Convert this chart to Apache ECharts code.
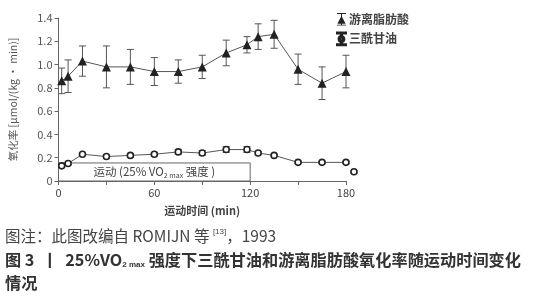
<!DOCTYPE html>
<html>
<head>
<meta charset="utf-8">
<script src="https://cdn.jsdelivr.net/npm/echarts@6/dist/echarts.min.js"></script>
<style>
  html, body { margin: 0; padding: 0; background: #fff; }
  #chart { width: 533px; height: 300px; }
</style>
</head>
<body>
<div id="chart"></div>
<script>
// 运动时间 (min)
const times = [2, 6, 15, 30, 45, 60, 75, 90, 105, 118, 125, 135, 150, 165, 180];
// 游离脂肪酸 氧化率 + 误差
const ffaValues = [0.86, 0.9, 1.03, 0.98, 0.98, 0.94, 0.94, 0.98, 1.1, 1.17, 1.24, 1.26, 0.96, 0.84, 0.94];
const ffaErr = [0.11, 0.14, 0.13, 0.18, 0.15, 0.12, 0.1, 0.1, 0.11, 0.07, 0.11, 0.12, 0.13, 0.14, 0.14];
// 三酰甘油
const tgTimes = [2, 6, 15, 30, 45, 60, 75, 90, 105, 118, 125, 135, 150, 165, 180, 185];
const tgValues = [0.13, 0.15, 0.23, 0.21, 0.22, 0.23, 0.25, 0.24, 0.27, 0.27, 0.24, 0.22, 0.16, 0.16, 0.16, 0.08];
const tgErr = [0.01, 0.01, 0.01, 0.015, 0.015, 0.015, 0.02, 0.02, 0.025, 0.025, 0.015, 0.01, 0.01, 0.01, 0.01, 0.01];
// 运动期 (25% VO2max)
const exercisePeriod = [0, 120];
const exerciseBoxTop = 0.155;
const yTicks = [0, 0.2, 0.4, 0.6, 0.8, 1.0, 1.2, 1.4];

const pair = (xs, ys) => xs.map((x, i) => [x, ys[i]]);
const errData = (xs, ys, es) => xs.map((x, i) => [x, ys[i] - es[i], ys[i] + es[i]]);

function errorBars(params, api) {
  const lo = api.coord([api.value(0), api.value(1)]);
  const hi = api.coord([api.value(0), api.value(2)]);
  const w = 3.5;
  const st = { stroke: '#555', lineWidth: 1 };
  return {
    type: 'group',
    children: [
      { type: 'line', shape: { x1: lo[0], y1: lo[1], x2: hi[0], y2: hi[1] }, style: st },
      { type: 'line', shape: { x1: lo[0] - w, y1: lo[1], x2: lo[0] + w, y2: lo[1] }, style: st },
      { type: 'line', shape: { x1: hi[0] - w, y1: hi[1], x2: hi[0] + w, y2: hi[1] }, style: st }
    ]
  };
}

const font = '"Noto Sans CJK SC", "Open Sans", sans-serif';
const chart = echarts.init(document.getElementById('chart'));

const iconFfa = 'path://M0,0H10V1H5.6V13H10V14H0V13H4.4V1H0Z M5,3L9.5,12H0.5Z';
const iconTg = 'path://M0,0H10V1H5.6V4H4.4V1H0Z M4.4,10H5.6V13H10V14H0V13H4.4Z ' +
  'M8.2,7A3.2,3.2 0 1,0 1.8,7A3.2,3.2 0 1,0 8.2,7Z M6.6,7A1.6,1.6 0 1,1 3.4,7A1.6,1.6 0 1,1 6.6,7Z';

chart.setOption({
  animation: false,
  textStyle: { fontFamily: font },
  grid: { left: 58, top: 18, width: 288, bottom: 119, containLabel: false },
  legend: {
    orient: 'vertical',
    left: 331,
    top: 8,
    itemGap: 6,
    itemWidth: 9,
    itemHeight: 13,
    textStyle: { fontSize: 12, fontWeight: 'bold', color: '#444', fontFamily: font, padding: [0, 0, 0, -2] },
    data: [
      { name: '游离脂肪酸', icon: iconFfa, itemStyle: { color: '#222' } },
      { name: '三酰甘油', icon: iconTg, itemStyle: { color: '#222' } }
    ]
  },
  xAxis: {
    type: 'value',
    min: 0,
    max: 180,
    interval: 30,
    name: '运动时间 (min)',
    nameLocation: 'middle',
    nameGap: 24,
    nameTextStyle: { fontSize: 11, fontWeight: 'bold', color: '#444' },
    axisLine: { lineStyle: { color: '#666', width: 1 } },
    axisTick: { length: 4, lineStyle: { color: '#666' } },
    axisLabel: {
      fontSize: 11, color: '#444', margin: 6,
      formatter: v => (v % 60 === 0 ? String(v) : '')
    },
    splitLine: { show: false }
  },
  yAxis: {
    type: 'value',
    min: 0,
    max: 1.4,
    interval: 0.2,
    name: '氧化率 [μmol/(kg · min)]',
    nameLocation: 'middle',
    nameGap: 40,
    nameTextStyle: { fontSize: 10.5, color: '#555' },
    axisLine: { show: true, lineStyle: { color: '#666', width: 1 } },
    axisTick: { show: true, length: 4, lineStyle: { color: '#666' } },
    axisLabel: {
      fontSize: 11, color: '#555', margin: 6,
      formatter: v => {
        const t = yTicks.find(k => Math.abs(k - v) < 1e-6);
        return t === 0 ? '0' : t.toFixed(1);
      }
    },
    splitLine: { show: false }
  },
  series: [
    {
      name: '游离脂肪酸',
      type: 'line',
      data: pair(times, ffaValues),
      symbol: 'triangle',
      symbolSize: 9,
      clip: false,
      lineStyle: { color: '#555', width: 1 },
      itemStyle: { color: '#222' },
      z: 3
    },
    {
      name: '游离脂肪酸',
      type: 'custom',
      renderItem: errorBars,
      data: errData(times, ffaValues, ffaErr),
      encode: { x: 0, y: [1, 2] },
      clip: false,
      z: 2
    },
    {
      name: '三酰甘油',
      type: 'line',
      data: pair(tgTimes, tgValues),
      symbol: 'circle',
      symbolSize: 6,
      clip: false,
      lineStyle: { color: '#555', width: 1 },
      itemStyle: { color: '#fff', borderColor: '#222', borderWidth: 1.6 },
      z: 3,
      markArea: {
        silent: true,
        itemStyle: { color: 'rgba(0,0,0,0)', borderColor: '#666', borderWidth: 1 },
        label: {
          show: true,
          position: 'inside',
          color: '#444',
          fontSize: 11.5,
          formatter: '运动 (25% VO{s|2 max} 强度 )',
          rich: { s: { fontSize: 7, verticalAlign: 'bottom', color: '#444', padding: [6, 0, 0, 0] } }
        },
        data: [[
          { xAxis: exercisePeriod[0], yAxis: 0 },
          { xAxis: exercisePeriod[1], yAxis: exerciseBoxTop }
        ]]
      }
    },
    {
      name: '三酰甘油',
      type: 'custom',
      renderItem: errorBars,
      data: errData(tgTimes, tgValues, tgErr),
      encode: { x: 0, y: [1, 2] },
      clip: false,
      z: 2
    }
  ],
  graphic: [
    {
      type: 'text',
      left: 5,
      top: 228,
      style: {
        text: '图注：此图改编自 ROMIJN 等 {sup|[13]}，1993',
        font: '15.5px ' + font,
        fill: '#444',
        rich: { sup: { fontSize: 8, verticalAlign: 'top', padding: [0, 0, 6, 0], fill: '#444' } }
      }
    },
    {
      type: 'text',
      left: 5,
      top: 252,
      style: {
        text: '图 3  丨  25%VO{sub|2 max} 强度下三酰甘油和游离脂肪酸氧化率随运动时间变化',
        font: 'bold 16.2px ' + font,
        fill: '#333',
        rich: { sub: { fontSize: 8, fontWeight: 'bold', verticalAlign: 'bottom', padding: [9, 0, 0, 0], fill: '#333' } }
      }
    },
    {
      type: 'text',
      left: 5,
      top: 275,
      style: {
        text: '情况',
        font: 'bold 16.2px ' + font,
        fill: '#333'
      }
    }
  ]
});
</script>
</body>
</html>
